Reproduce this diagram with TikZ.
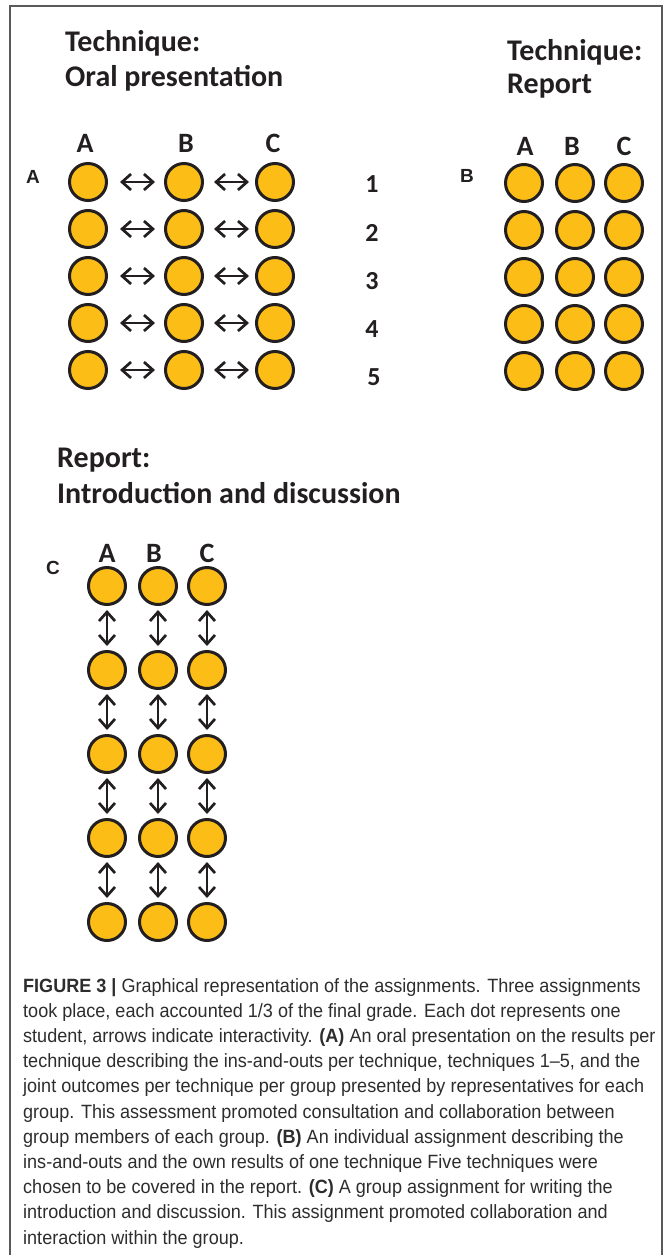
\documentclass[tikz,border=0pt]{standalone}
\usepackage{fontspec}
\setmainfont{Carlito}
\newfontfamily\capfont[FakeStretch=0.94]{Liberation Sans}
\newfontfamily\lblfont{Liberation Sans}
\usetikzlibrary{arrows.meta}
\definecolor{dotc}{RGB}{252,190,22}
\definecolor{ink}{RGB}{35,31,32}
\definecolor{capc}{RGB}{45,45,45}
\definecolor{framec}{RGB}{90,90,90}
\begin{document}
\begin{tikzpicture}[x=1pt,y=-1pt,
  dot/.style={circle,draw=ink,fill=dotc,line width=3pt,minimum size=37pt,inner sep=0pt},
  title/.style={anchor=base west,inner sep=0pt,text=ink,font=\fontsize{30}{34}\selectfont\bfseries},
  colhead/.style={anchor=base,inner sep=0pt,text=ink,font=\fontsize{28}{30}\selectfont\bfseries},
  panel/.style={anchor=base,inner sep=0pt,text=ink,font=\lblfont\fontsize{19}{22}\selectfont\bfseries},
  num/.style={anchor=base,inner sep=0pt,text=ink,font=\fontsize{26}{28}\selectfont\bfseries},
  dbl/.style={{Straight Barb[length=9pt,width=16pt]}-{Straight Barb[length=9pt,width=16pt]},line width=2.7pt,draw=ink},
  frameline/.style={draw=framec,line width=1.4pt}
]
\useasboundingbox (0,0) rectangle (665,1255);
% frame
\coordinate (f1) at (10,1255);
\coordinate (f2) at (10,6);
\coordinate (f3) at (662,6);
\coordinate (f4) at (662,1255);
\draw[frameline] (f1) -- (f2) -- (f3) -- (f4);

% titles
\node[title] (t1) at (65,52) {Technique:};
\node[title] (t2) at (65,86) {Oral presentation};
\node[title] (t3) at (507,60) {Technique:};
\node[title] (t4) at (507,93) {Report};
\node[title] (t5) at (57,467) {Report:};
\node[title] (t6) at (57,503) {Introduction and discussion};

% panel A
\node[panel] (pA) at (33,183) {A};
\node[colhead] (hA1) at (85,152) {A};
\node[colhead] (hA2) at (186,152) {B};
\node[colhead] (hA3) at (273,152) {C};
\foreach \r/\y in {1/182,2/229,3/276,4/323,5/370}{
  \node[dot] (a\r1) at (88,\y) {};
  \node[dot] (a\r2) at (184,\y) {};
  \node[dot] (a\r3) at (275,\y) {};
  \draw[dbl,shorten <=12pt,shorten >=9pt] (a\r1) -- (a\r2);
  \draw[dbl,shorten <=10pt,shorten >=6pt] (a\r2) -- (a\r3);
}
\node[num] (n1) at (372,192) {1};
\node[num] (n2) at (372,241) {2};
\node[num] (n3) at (372,289) {3};
\node[num] (n4) at (372,337) {4};
\node[num] (n5) at (374,385) {5};

% panel B
\node[panel] (pB) at (467,182) {B};
\node[colhead] (hB1) at (525,155) {A};
\node[colhead] (hB2) at (572,155) {B};
\node[colhead] (hB3) at (624,155) {C};
\foreach \r/\y in {1/183,2/230,3/277,4/324,5/371}{
  \node[dot] (b\r1) at (524,\y) {};
  \node[dot] (b\r2) at (575,\y) {};
  \node[dot] (b\r3) at (624,\y) {};
}

% panel C
\node[panel] (pC) at (53,574) {C};
\node[colhead] (hC1) at (107,562) {A};
\node[colhead] (hC2) at (154,562) {B};
\node[colhead] (hC3) at (207,562) {C};
\foreach \r/\y in {1/586,2/670,3/754,4/838,5/922}{
  \node[dot] (c\r1) at (107,\y) {};
  \node[dot] (c\r2) at (158,\y) {};
  \node[dot] (c\r3) at (207,\y) {};
}
\foreach \r/\s in {1/2,2/3,3/4,4/5}{
  \foreach \c in {1,2,3}{
    \draw[dbl,shorten <=4pt,shorten >=4pt] (c\r\c) -- (c\s\c);
  }
}

% caption (anchor at the baseline of the last line)
\node[anchor=base west,align=left,inner sep=0pt,text=capc,font=\capfont\fontsize{19.2}{25.2}\selectfont] (cap) at (23,1244)
{\textbf{FIGURE 3 |} Graphical representation of the assignments. Three assignments\\
took place, each accounted 1/3 of the final grade. Each dot represents one\\
student, arrows indicate interactivity. \textbf{(A)} An oral presentation on the results per\\
technique describing the ins-and-outs per technique, techniques 1–5, and the\\
joint outcomes per technique per group presented by representatives for each\\
group. This assessment promoted consultation and collaboration between\\
group members of each group. \textbf{(B)} An individual assignment describing the\\
ins-and-outs and the own results of one technique Five techniques were\\
chosen to be covered in the report. \textbf{(C)} A group assignment for writing the\\
introduction and discussion. This assignment promoted collaboration and\\
interaction within the group.};
\end{tikzpicture}
\end{document}
